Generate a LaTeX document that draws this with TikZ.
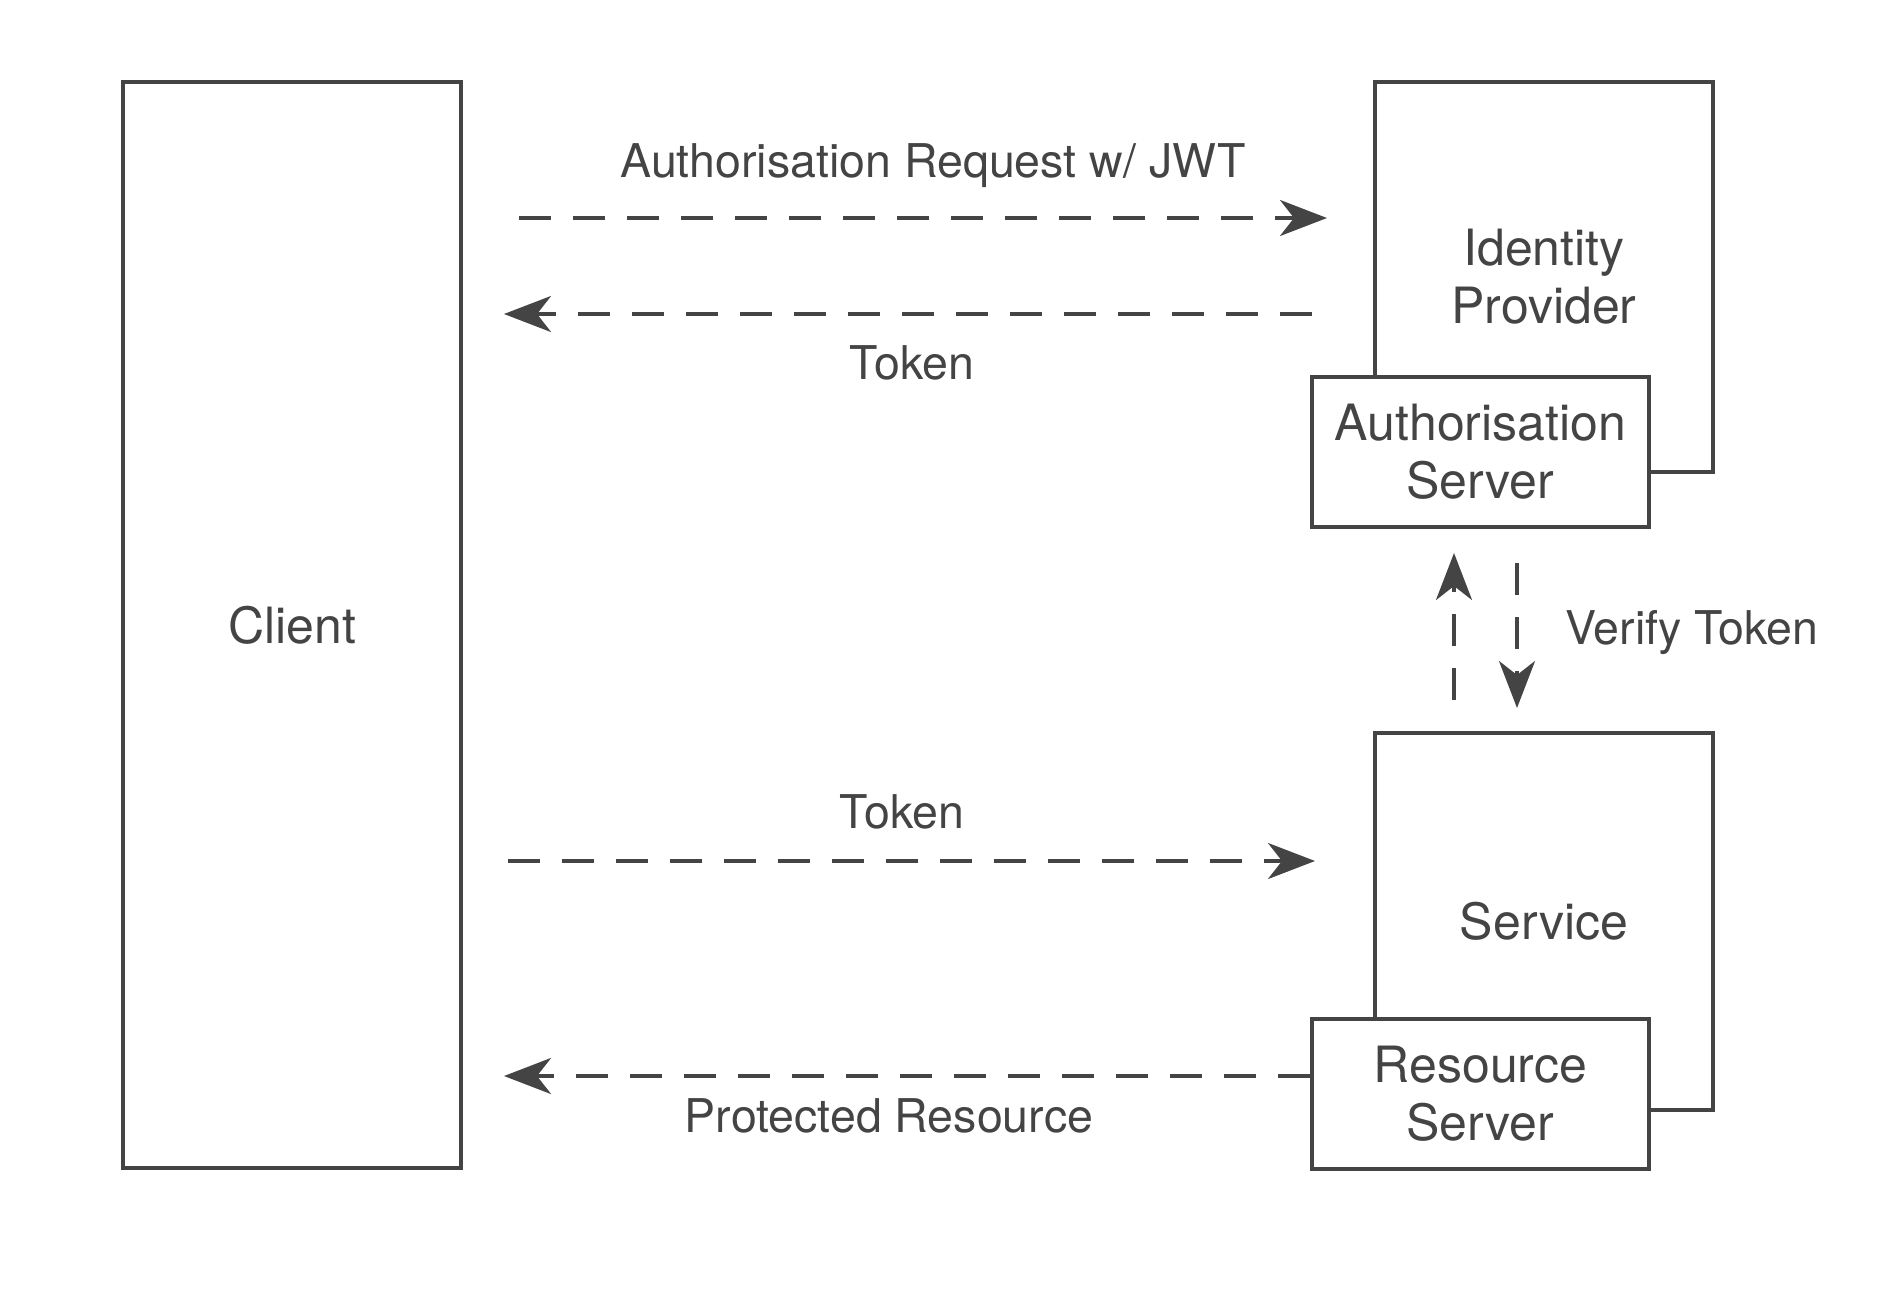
\documentclass[tikz,border=0pt]{standalone}
\usepackage{fontspec}
\setmainfont{TeX Gyre Heros}
\usetikzlibrary{arrows.meta}
\definecolor{ink}{HTML}{444444}
\begin{document}
\begin{tikzpicture}[x=1pt,y=-1pt,
  box/.style={draw=ink, line width=3.5pt, fill=white, rectangle, inner sep=0pt,
    align=center, text=ink, font=\fontsize{50}{58}\selectfont},
  lbl/.style={text=ink, font=\fontsize{46.5}{54}\selectfont, inner sep=0pt, anchor=base},
  flow/.style={draw=ink, line width=3.6pt, dash pattern=on 32pt off 22pt,
    -{Stealth[length=47pt, width=36pt, inset=14pt]}}
]
\useasboundingbox (0,0) rectangle (1892,1312);
% boxes
\node[box, minimum width=338pt, minimum height=1086pt] (client) at (292,625) {Client};
\node[box, minimum width=338pt, minimum height=390pt] (idp) at (1544,277) {Identity\\Provider};
\node[box, minimum width=337pt, minimum height=150pt] (as) at (1480.5,452) {Authorisation\\Server};
\node[box, minimum width=338pt, minimum height=377pt] (svc) at (1544,921.5) {Service};
\node[box, minimum width=337pt, minimum height=150pt] (rs) at (1480.5,1094) {Resource\\Server};
% connector end points
\coordinate (a1s) at (519,218);  \coordinate (a1e) at (1327,218);
\coordinate (a2s) at (1312,314); \coordinate (a2e) at (504,314);
\coordinate (v1s) at (1454,700); \coordinate (v1e) at (1454,553);
\coordinate (v2s) at (1517,563); \coordinate (v2e) at (1517,708);
\coordinate (a3s) at (508,861);  \coordinate (a3e) at (1315,861);
\coordinate (a4e) at (504,1076);
% connectors
\draw[flow] (a1s) -- (a1e);
\draw[flow] (a2s) -- (a2e);
\draw[flow] (v1s) -- (v1e);
\draw[flow] (v2s) -- (v2e);
\draw[flow] (a3s) -- (a3e);
\draw[flow] (rs.west |- a4e) -- (a4e);
% labels
\node[lbl] (l1) at (933,177) {Authorisation Request w/ JWT};
\node[lbl] (l2) at (912,379) {Token};
\node[lbl, anchor=base west] (l3) at (1565,644) {Verify Token};
\node[lbl] (l4) at (902,828) {Token};
\node[lbl] (l5) at (889,1132) {Protected Resource};
\end{tikzpicture}
\end{document}
